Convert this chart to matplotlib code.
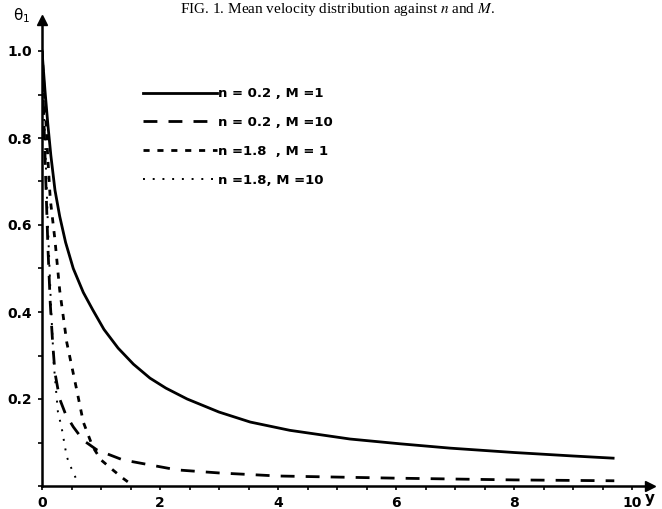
import matplotlib
matplotlib.use("Agg")
import matplotlib.pyplot as plt
from matplotlib.ticker import MultipleLocator, FixedLocator, FixedFormatter

plt.rcParams["mathtext.fontset"] = "stix"

# ---- data ----
x_a = [0, 0.05, 0.1, 0.15, 0.22, 0.3, 0.4, 0.53, 0.7, 0.86, 1.05, 1.29, 1.55, 1.83, 2.1,
       2.46, 3.0, 3.53, 4.2, 5.22, 6.07, 6.92, 8.0, 9.0, 9.68]
y_a = [1.0, 0.91, 0.83, 0.76, 0.68, 0.62, 0.56, 0.50, 0.445, 0.405, 0.36, 0.317, 0.28, 0.248, 0.225,
       0.2, 0.17, 0.147, 0.128, 0.108, 0.097, 0.087, 0.077, 0.069, 0.064]

x_b = [0, 0.03, 0.06, 0.1, 0.14, 0.18, 0.22, 0.3, 0.4, 0.53, 0.7, 0.93, 1.37, 2.29, 3.0, 4.0, 6.0, 8.0, 9.7]
y_b = [1.0, 0.85, 0.72, 0.55, 0.42, 0.33, 0.26, 0.2, 0.165, 0.136, 0.105, 0.083, 0.06, 0.037, 0.03,
       0.023, 0.018, 0.014, 0.012]

x_c = [0, 0.05, 0.1, 0.14, 0.22, 0.3, 0.42, 0.59, 0.7, 0.86, 1.0, 1.2, 1.37, 1.5]
y_c = [1.0, 0.88, 0.75, 0.66, 0.565, 0.45, 0.33, 0.22, 0.147, 0.09, 0.06, 0.037, 0.018, 0.005]

x_d = [0, 0.05, 0.1, 0.15, 0.2, 0.27, 0.33, 0.42, 0.5, 0.6]
y_d = [1.0, 0.8, 0.6, 0.42, 0.28, 0.17, 0.136, 0.067, 0.04, 0.01]

labels = ["n = 0.2 , M =1", "n = 0.2 , M =10", "n =1.8  , M = 1", "n =1.8, M =10"]
x_ticks = [0, 2, 4, 6, 8, 10]
x_ticklabels = ["0", "2", "4", "6", "8", "10"]
y_ticks = [0.2, 0.4, 0.6, 0.8, 1.0]
y_ticklabels = ["0.2", "0.4", "0.6", "0.8", "1.0"]
title = "FIG. 1. Mean velocity distribution against $\\mathit{n}$ and $\\mathit{M}$."

W, H = 662, 509
fig = plt.figure(figsize=(W / 100, H / 100), dpi=100)
x0, x1 = 42, 650
y0, y1 = 486, 20
ax = fig.add_axes([x0 / W, 1 - y0 / H, (x1 - x0) / W, (y0 - y1) / H])
ax.set_xlim(0, (x1 - x0) / 59.0)
ax.set_ylim(0, (y0 - y1) / 435.0)

ax.plot(x_a, y_a, color="black", lw=2.0, label=labels[0])
ax.plot(x_b, y_b, color="black", lw=2.0, dashes=(5, 4), label=labels[1])
ax.plot(x_c, y_c, color="black", lw=2.0, dashes=(2.2, 2.8), label=labels[2])
ax.plot(x_d, y_d, color="black", lw=1.4, dashes=(1, 4), label=labels[3])

for s in ["top", "right"]:
    ax.spines[s].set_visible(False)
ax.spines["left"].set_linewidth(1.8)
ax.spines["bottom"].set_linewidth(1.8)
# arrow heads
ax.plot(1, 0, ">", color="black", ms=7, transform=ax.transAxes, clip_on=False)
ax.plot(0, 1, "^", color="black", ms=7, transform=ax.transAxes, clip_on=False)

ax.xaxis.set_major_locator(FixedLocator(x_ticks))
ax.xaxis.set_major_formatter(FixedFormatter(x_ticklabels))
ax.xaxis.set_minor_locator(MultipleLocator(0.5))
ax.yaxis.set_major_locator(FixedLocator(y_ticks))
ax.yaxis.set_major_formatter(FixedFormatter(y_ticklabels))
ax.yaxis.set_minor_locator(MultipleLocator(0.1))
ax.tick_params(axis="both", which="both", direction="out", length=3, width=1.2,
               labelsize=10, pad=4)
for t in ax.get_xticklabels() + ax.get_yticklabels():
    t.set_fontweight("bold")
    t.set_family("DejaVu Sans")

fig.text(650 / W, 1 - 498 / H, "y", fontsize=11, fontweight="bold", ha="center", va="center")
fig.text(22 / W, 1 - 16 / H, r"$\mathregular{\theta_1}$", fontsize=11, ha="center", va="center",
         family="DejaVu Sans")
fig.text(337 / W, 1 - 1 / H, title, fontsize=11, family="Liberation Serif", ha="center",
         va="top")

leg = ax.legend(loc="upper left", bbox_to_anchor=(138 / W, 1 - 82 / H),
                bbox_transform=fig.transFigure, frameon=False, handlelength=5.6,
                handletextpad=0.1, labelspacing=1.2, fontsize=9.5, borderaxespad=0)
for t in leg.get_texts():
    t.set_fontweight("bold")

fig.savefig("out.png", dpi=100, facecolor="white")
